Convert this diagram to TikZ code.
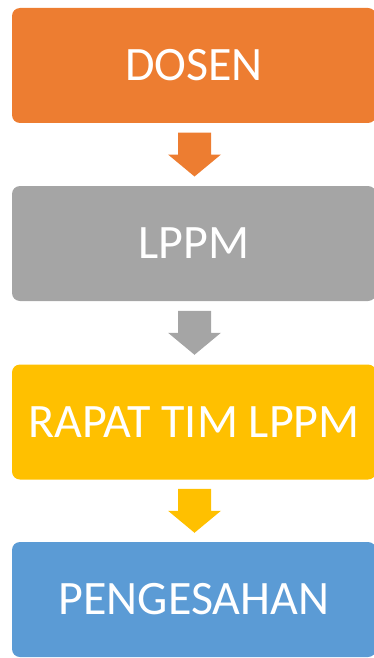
\documentclass[tikz,border=0pt]{standalone}
\usepackage{fontspec}
\setmainfont{Carlito}
\usetikzlibrary{calc}
\definecolor{cOrange}{HTML}{ED7D31}
\definecolor{cGray}{HTML}{A5A5A5}
\definecolor{cYellow}{HTML}{FFC000}
\definecolor{cBlue}{HTML}{5B9BD5}
\tikzset{
  flowbox/.style={rectangle, rounded corners=8pt, minimum width=364pt, minimum height=115pt,
    inner sep=0pt, text=white, font=\fontsize{48}{52}\selectfont},
  pics/blockarrow/.style={code={
    \fill[#1] (-16.5pt,22pt) -- (16.5pt,22pt) -- (16.5pt,0pt) -- (26.5pt,0pt)
      -- (0pt,-22pt) -- (-26.5pt,0pt) -- (-16.5pt,0pt) -- cycle;
  }}
}
\begin{document}
\begin{tikzpicture}[x=1pt,y=-1pt]
\useasboundingbox (0,0) rectangle (374,658);
\node[flowbox, fill=cOrange] (dosen) at (194,65.5) {DOSEN};
\node[flowbox, fill=cGray] (lppm) at (194,243.5) {LPPM};
\node[flowbox, fill=cYellow] (rapat) at (194,422) {RAPAT TIM LPPM};
\node[flowbox, fill=cBlue] (sah) at (194,599.5) {PENGESAHAN};
\path (dosen.south) -- (lppm.north) coordinate[pos=0.5] (m1);
\path (lppm.south) -- (rapat.north) coordinate[pos=0.5] (m2);
\path (rapat.south) -- (sah.north) coordinate[pos=0.5] (m3);
\pic at ($(m1)+(0.5,0)$) {blockarrow=cOrange};
\pic at ($(m2)+(0.5,0)$) {blockarrow=cGray};
\pic at ($(m3)+(0.5,0)$) {blockarrow=cYellow};
\end{tikzpicture}
\end{document}
